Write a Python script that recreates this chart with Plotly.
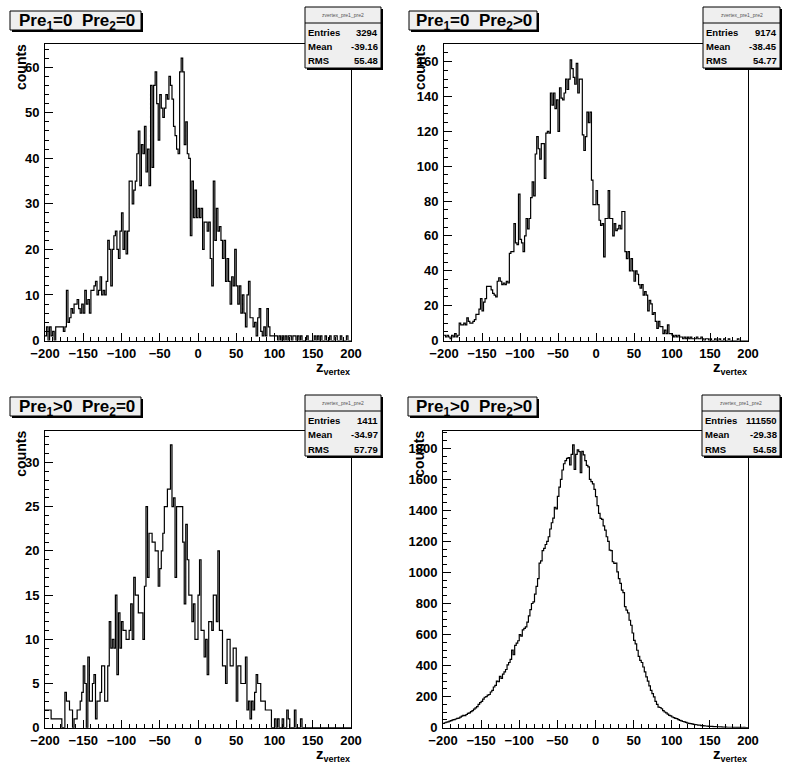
import numpy as np
import plotly.graph_objects as go

# ---------------- data ----------------
z_lo, z_hi, bin_w = -200, 200, 2
z_tick_vals = [-200, -150, -100, -50, 0, 50, 100, 150, 200]

titles = ["Pre<sub>1</sub>=0  Pre<sub>2</sub>=0", "Pre<sub>1</sub>=0  Pre<sub>2</sub>&gt;0",
          "Pre<sub>1</sub>&gt;0  Pre<sub>2</sub>=0", "Pre<sub>1</sub>&gt;0  Pre<sub>2</sub>&gt;0"]
stat_entries = ["3294", "9174", "1411", "111550"]
stat_mean = ["-39.16", "-38.45", "-34.97", "-29.38"]
stat_rms = ["55.48", "54.77", "57.79", "54.58"]
y_max = [65.1, 170.1, 33.6, 1913]
y_major = [10, 20, 5, 200]
y_minor = [2, 5, 1, 50]

counts_p0_p0 = [
    1, 3, 0, 3, 1,  2, 0, 3, 3, 3,  3, 3, 2, 3, 11,  4, 5, 7, 6, 8,  8, 9, 7, 6, 8,
    6, 11, 8, 9, 6,  11, 11, 12, 13, 10,  11, 14, 10, 11, 10,  13, 22, 20, 12, 20,  23, 24, 20, 18, 24,
    28, 20, 24, 19, 24,  35, 35, 30, 33, 35,  41, 46, 34, 43, 41,  47, 37, 42, 34, 56,  38, 56, 59, 52, 44,
    54, 51, 49, 51, 54,  53, 58, 56, 53, 47,  45, 42, 41, 59, 62,  59, 43, 48, 41, 40,  23, 35, 27, 33, 27,
    29, 27, 29, 20, 26,  26, 24, 26, 18, 12,  35, 22, 29, 24, 25,  22, 18, 22, 13, 18,  13, 8, 14, 12, 20,
    12, 8, 12, 6, 10,  6, 3, 10, 13, 5,  5, 3, 4, 1, 5,  7, 2, 1, 3, 1,  7, 3, 1, 1, 1,
    1, 1, 0, 1, 0,  1, 0, 1, 0, 1,  1, 0, 1, 1, 0,  1, 0, 1, 0, 0,  0, 1, 0, 0, 0,
    0, 1, 0, 1, 0,  1, 0, 0, 1, 0,  0, 1, 0, 0, 1,  1, 0, 0, 1, 0,  0, 0, 1, 0, 0,
]
counts_p0_p1 = [
    3, 2, 3, 2, 1,  3, 2, 4, 2, 3,  10, 9, 9, 10, 9,  13, 11, 10, 10, 11,  12, 15, 15, 18, 24,
    17, 22, 24, 31, 31,  31, 29, 27, 26, 25,  34, 36, 34, 32, 33,  32, 34, 33, 50, 51,  51, 67, 56, 55, 84,
    58, 56, 51, 60, 70,  64, 70, 82, 91, 83,  107, 117, 110, 104, 113,  113, 93, 119, 120, 119,  142, 135, 142, 133, 138,
    120, 145, 139, 138, 142,  150, 144, 150, 161, 156,  151, 147, 159, 142, 150,  150, 118, 109, 117, 131,  125, 131, 92, 78, 78,
    86, 78, 69, 66, 67,  48, 70, 70, 86, 70,  70, 60, 67, 63, 64,  66, 64, 74, 74, 51,  47, 51, 40, 47, 40,
    34, 40, 38, 32, 30,  32, 26, 28, 26, 17,  23, 21, 15, 16, 11,  7, 11, 8, 8, 4,  6, 4, 9, 4, 4,
    3, 2, 3, 2, 3,  2, 2, 1, 2, 1,  2, 1, 2, 1, 1,  1, 2, 1, 1, 2,  1, 0, 1, 1, 0,
    1, 0, 0, 1, 0,  0, 1, 0, 0, 1,  0, 0, 1, 0, 0,  0, 0, 0, 1, 0,  0, 0, 0, 0, 0,
]
counts_p1_p0 = [
    2, 2, 2, 2, 1,  1, 1, 1, 1, 1,  1, 0, 0, 4, 3,  3, 2, 2, 0, 1,  1, 2, 2, 3, 4,
    7, 5, 0, 8, 3,  3, 5, 6, 1, 3,  3, 4, 7, 7, 3,  3, 7, 12, 9, 10,  9, 15, 6, 13, 9,
    12, 11, 11, 10, 10,  11, 14, 10, 17, 15,  15, 13, 13, 13, 10,  16, 25, 17, 22, 22,  21, 21, 20, 20, 16,
    18, 20, 22, 25, 25,  27, 27, 32, 25, 26,  17, 25, 25, 25, 25,  21, 14, 23, 19, 15,  15, 12, 14, 10, 10,
    15, 19, 11, 11, 8,  10, 6, 12, 12, 11,  15, 15, 12, 20, 11,  11, 7, 7, 5, 10,  10, 7, 7, 9, 9,
    3, 7, 7, 5, 5,  5, 8, 2, 3, 1,  3, 2, 4, 6, 5,  5, 3, 3, 3, 2,  2, 2, 2, 0, 0,
    1, 0, 1, 0, 0,  1, 0, 0, 2, 1,  0, 0, 0, 2, 0,  0, 0, 1, 0, 0,  0, 0, 0, 0, 0,
    0, 0, 0, 0, 0,  0, 0, 0, 0, 0,  0, 0, 0, 0, 0,  0, 0, 0, 0, 0,  0, 0, 0, 0, 0,
]
counts_p1_p1 = [
    28, 32, 36, 38, 42,  45, 50, 52, 56, 60,  62, 68, 75, 80, 78,  85, 92, 96, 104, 110,  120, 128, 136, 150, 162,
    170, 184, 196, 200, 210,  214, 230, 240, 262, 272,  300, 296, 330, 318, 345,  360, 375, 405, 420, 440,  500, 470, 530, 545, 560,
    600, 590, 630, 640, 650,  680, 720, 760, 800, 810,  860, 910, 960, 1060, 1075,  1140, 1155, 1180, 1200, 1230,  1280, 1320, 1350, 1420, 1410,
    1490, 1550, 1600, 1660, 1700,  1720, 1735, 1740, 1692, 1760,  1822, 1664, 1760, 1790, 1778,  1643, 1780, 1757, 1720, 1690,  1680, 1600, 1585, 1570, 1535,
    1488, 1430, 1380, 1348, 1342,  1300, 1273, 1230, 1200, 1144,  1140, 1069, 1058, 1060, 1004,  960, 929, 886, 870, 780,  757, 740, 692, 660, 610,
    563, 540, 499, 460, 434,  420, 391, 360, 327, 300,  270, 241, 220, 198, 170,  150, 133, 130, 122, 110,  101, 95, 88, 80, 76,
    69, 65, 60, 58, 52,  47, 44, 40, 37, 34,  30, 28, 26, 24, 22,  20, 19, 17, 16, 14,  13, 12, 11, 10, 9,
    9, 8, 7, 7, 6,  6, 5, 5, 4, 4,  4, 3, 3, 3, 3,  2, 3, 2, 2, 2,  2, 1, 2, 1, 1,
]
all_counts = [counts_p0_p0, counts_p0_p1, counts_p1_p0, counts_p1_p1]

# ---------------- layout geometry (pixels) ----------------
W, H = 796, 774
frames = [  # left, right, top, bottom
    (45, 351, 44, 340.5),
    (444, 748, 44, 340.5),
    (45, 351, 430.7, 727.7),
    (443, 748, 430.7, 727.7),
]
title_boxes = [(10, 141, 11, 30), (409, 537, 11, 30), (10, 141, 397, 416), (408, 537, 397, 416)]
stat_boxes = [(305, 381, 7, 68), (703, 780, 7, 68), (305, 381, 395, 456), (702, 780, 395, 456)]

def px(x):
    return x / W

def py(y):
    return 1 - y / H

FONT = "Liberation Sans"
edges = np.arange(z_lo, z_hi + bin_w, bin_w)

fig = go.Figure()
shapes = []
annotations = []

for i in range(4):
    n = i + 1
    xa = "x" if n == 1 else f"x{n}"
    ya = "y" if n == 1 else f"y{n}"
    vals = list(all_counts[i])
    fig.add_trace(go.Scatter(
        x=edges, y=vals + [vals[-1]], mode="lines", line=dict(shape="hv", color="black", width=1.2),
        xaxis=xa, yaxis=ya, showlegend=False, hoverinfo="skip"))

    l, r, t, b = frames[i]
    axis_common = dict(showline=True, mirror=True, linecolor="black", linewidth=1, showgrid=False,
                       zeroline=False, ticks="inside", ticklen=8, tickcolor="black", automargin=False,
                       tickfont=dict(family=FONT, size=13, color="black", weight="bold"))
    xkey = "xaxis" if n == 1 else f"xaxis{n}"
    ykey = "yaxis" if n == 1 else f"yaxis{n}"
    fig.update_layout(**{
        xkey: dict(domain=[px(l), px(r)], range=[z_lo, z_hi], anchor=ya, tickvals=z_tick_vals,
                   minor=dict(dtick=10, ticks="inside", ticklen=4, tickcolor="black"),
                   ticklabelstandoff=1, **axis_common),
        ykey: dict(domain=[py(b), py(t)], range=[0, y_max[i]], anchor=xa, dtick=y_major[i], tick0=0,
                   minor=dict(dtick=y_minor[i], ticks="inside", ticklen=4, tickcolor="black"),
                   ticklabelstandoff=2, **axis_common),
    })

    # title box with shadow
    tl, tr, tt, tb = title_boxes[i]
    shapes.append(dict(type="rect", xref="paper", yref="paper", x0=px(tl + 2), x1=px(tr + 2),
                       y0=py(tb + 2), y1=py(tt + 2), fillcolor="black", line=dict(width=0)))
    shapes.append(dict(type="rect", xref="paper", yref="paper", x0=px(tl), x1=px(tr),
                       y0=py(tb), y1=py(tt), fillcolor="#efefef", line=dict(color="black", width=1)))
    annotations.append(dict(text=f"<b>{titles[i]}</b>", xref="paper", yref="paper",
                            x=px((tl + tr) / 2 + 1), y=py((tt + tb) / 2 + 1), xanchor="center", yanchor="middle",
                            showarrow=False, font=dict(family=FONT, size=17, color="black")))

    # stats box with shadow
    sl, sr, st, sb = stat_boxes[i]
    shapes.append(dict(type="rect", xref="paper", yref="paper", x0=px(sl + 2), x1=px(sr + 2),
                       y0=py(sb + 2), y1=py(st + 2), fillcolor="black", line=dict(width=0)))
    shapes.append(dict(type="rect", xref="paper", yref="paper", x0=px(sl), x1=px(sr),
                       y0=py(sb), y1=py(st), fillcolor="#efefef", line=dict(color="black", width=1)))
    shapes.append(dict(type="line", xref="paper", yref="paper", x0=px(sl), x1=px(sr),
                       y0=py(st + 16), y1=py(st + 16), line=dict(color="black", width=1)))
    annotations.append(dict(text="zvertex_pre1_pre2", xref="paper", yref="paper",
                            x=px((sl + sr) / 2), y=py(st + 8), xanchor="center", yanchor="middle",
                            showarrow=False, font=dict(family=FONT, size=5, color="#555555")))
    rows = [("Entries", stat_entries[i]), ("Mean", stat_mean[i]), ("RMS", stat_rms[i])]
    for k, (lab, val) in enumerate(rows):
        yc = st + 25 + 14.5 * k
        annotations.append(dict(text=f"<b>{lab}</b>", xref="paper", yref="paper", x=px(sl + 1), y=py(yc),
                                xanchor="left", yanchor="middle", showarrow=False,
                                font=dict(family=FONT, size=9.5, color="black")))
        annotations.append(dict(text=f"<b>{val}</b>", xref="paper", yref="paper", x=px(sr - 1), y=py(yc),
                                xanchor="right", yanchor="middle", showarrow=False,
                                font=dict(family=FONT, size=9.5, color="black")))

    # axis titles
    annotations.append(dict(text="<b>counts</b>", xref="paper", yref="paper", x=px(l - 24), y=py(t + 23),
                            xanchor="center", yanchor="middle", textangle=-90, showarrow=False,
                            font=dict(family=FONT, size=14, color="black")))
    annotations.append(dict(text="<b>z<sub><span style='font-size:9px'>vertex</span></sub></b>",
                            xref="paper", yref="paper", x=px(r + 1), y=py(b + 27),
                            xanchor="right", yanchor="middle", showarrow=False,
                            font=dict(family=FONT, size=15, color="black")))

fig.update_layout(template="none", width=W, height=H, margin=dict(l=0, r=0, t=0, b=0),
                  paper_bgcolor="white", plot_bgcolor="white", shapes=shapes, annotations=annotations)
fig.write_html("out.html", config={"displayModeBar": False},
               post_script="document.body.style.margin='0';document.body.style.overflow='hidden';")
